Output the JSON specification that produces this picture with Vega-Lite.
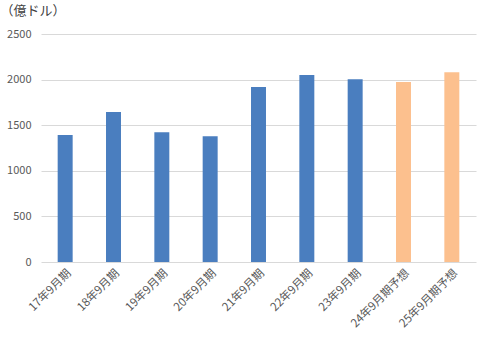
{
  "$schema": "https://vega.github.io/schema/vega-lite/v6.json",
  "autosize": {"type": "none"},
  "width": 435,
  "height": 228,
  "padding": {"left": 41, "top": 34, "right": 5, "bottom": 75},
  "background": "white",
  "config": {"view": {"stroke": null}, "font": "Noto Sans CJK JP"},
  "data": {"values": [
    {"period": "17年9月期", "value": 1392, "type": "実績"},
    {"period": "18年9月期", "value": 1645, "type": "実績"},
    {"period": "19年9月期", "value": 1422, "type": "実績"},
    {"period": "20年9月期", "value": 1378, "type": "実績"},
    {"period": "21年9月期", "value": 1919, "type": "実績"},
    {"period": "22年9月期", "value": 2050, "type": "実績"},
    {"period": "23年9月期", "value": 2003, "type": "実績"},
    {"period": "24年9月期予想", "value": 1974, "type": "予想"},
    {"period": "25年9月期予想", "value": 2080, "type": "予想"}
  ]},
  "mark": {"type": "bar"},
  "encoding": {
    "x": {"field": "period", "type": "nominal", "sort": null,
      "scale": {"paddingInner": 0.69, "paddingOuter": 0.345},
      "axis": {"title": null, "labelAngle": -45, "labelFontSize": 11.5, "labelColor": "#595959",
        "domain": false, "ticks": false, "labelPadding": 5}},
    "y": {"field": "value", "type": "quantitative",
      "scale": {"domain": [0, 2500], "nice": false},
      "axis": {"values": [0, 500, 1000, 1500, 2000, 2500], "format": "d", "domain": false, "ticks": false,
        "gridColor": "#D9D9D9", "gridWidth": 1, "labelFontSize": 11, "labelColor": "#595959",
        "labelPadding": 10,
        "title": "（億ドル）", "titleAngle": 0, "titleX": -41, "titleY": -24, "titleAlign": "left",
        "titleBaseline": "middle", "titleFontSize": 13, "titleFontWeight": "normal", "titleColor": "#404040"}},
    "color": {"field": "type", "type": "nominal",
      "scale": {"domain": ["実績", "予想"], "range": ["#4A7EBF", "#FCC08E"]}, "legend": null}
  }
}
